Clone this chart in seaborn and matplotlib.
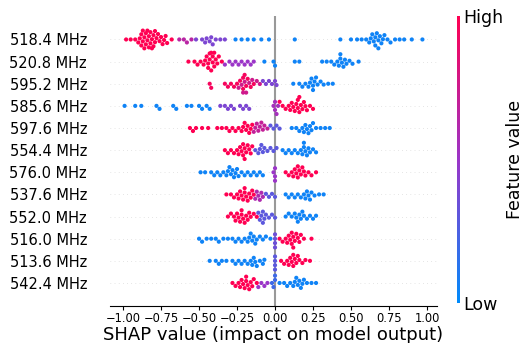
import numpy as np
import pandas as pd
import seaborn as sns
import matplotlib
import matplotlib.pyplot as plt
from matplotlib.colors import LinearSegmentedColormap, Normalize
from matplotlib.cm import ScalarMappable

# Features, top to bottom (ordered by mean |SHAP|)
features = ["518.4 MHz", "520.8 MHz", "595.2 MHz", "585.6 MHz", "597.6 MHz", "554.4 MHz",
            "576.0 MHz", "537.6 MHz", "552.0 MHz", "516.0 MHz", "513.6 MHz", "542.4 MHz"]

# Each row: (feature value 0=low..1=high, [SHAP values])
row_518_4 = [(1.0, [-0.98, -0.95, -0.92, -0.90, -0.89, -0.88, -0.88, -0.87, -0.87, -0.86, -0.86,
                    -0.85, -0.85, -0.84, -0.84, -0.83, -0.83, -0.82, -0.82, -0.81, -0.81, -0.80,
                    -0.80, -0.79, -0.79, -0.78, -0.77, -0.76, -0.75, -0.74, -0.73, -0.72, -0.71,
                    -0.68]),
             (0.65, [-0.63, -0.60, -0.58, -0.55]),
             (0.4, [-0.52, -0.48, -0.46, -0.45, -0.43, -0.42, -0.41, -0.39, -0.36, -0.33]),
             (0.05, [-0.26, -0.22, -0.18, -0.14, -0.09, -0.04, 0.13, 0.43, 0.50, 0.54, 0.57, 0.60,
                     0.62, 0.63, 0.64, 0.65, 0.66, 0.66, 0.67, 0.68, 0.68, 0.69, 0.70, 0.71, 0.72,
                     0.74, 0.76, 0.79, 0.82, 0.85, 0.90, 0.97])]
row_520_8 = [(1.0, [-0.57, -0.53, -0.51, -0.49, -0.47, -0.46, -0.45, -0.44, -0.44, -0.43, -0.43,
                    -0.42, -0.42, -0.41, -0.41, -0.40, -0.40, -0.39, -0.38, -0.37, -0.35]),
             (0.5, [-0.33, -0.30, -0.28, -0.26, -0.24, -0.22, -0.20, -0.18, -0.16, -0.14]),
             (0.05, [-0.07, -0.01, 0.0, 0.13, 0.16, 0.31, 0.34, 0.37, 0.39, 0.41, 0.42, 0.43, 0.43,
                     0.44, 0.45, 0.46, 0.47, 0.49, 0.51, 0.55])]
row_595_2 = [(0.95, [-0.43, -0.42, -0.33, -0.31, -0.29, -0.27, -0.25, -0.23, -0.21, -0.21, -0.20,
                     -0.19, -0.18, -0.16, -0.14]),
             (0.75, [-0.24, -0.22, -0.21, -0.20, -0.19, -0.17, -0.15, -0.12, -0.10]),
             (0.4, [-0.08, -0.06, -0.04, -0.02, 0.0, 0.01]),
             (0.05, [0.12, 0.16, 0.18, 0.20, 0.22, 0.23, 0.24, 0.25, 0.25, 0.26, 0.27, 0.28, 0.30,
                     0.32, 0.35, 0.38])]
row_585_6 = [(0.05, [-0.99, -0.92, -0.88, -0.78, -0.76, -0.67, -0.65, -0.58, -0.55, -0.50, -0.48,
                     -0.45, -0.43]),
             (0.4, [-0.36, -0.33, -0.31, -0.29, -0.27, -0.23, -0.21, -0.19, -0.17]),
             (0.55, [-0.01, 0.0, 0.0, 0.01, 0.02]),
             (1.0, [0.03, 0.05, 0.07, 0.09, 0.10, 0.11, 0.12, 0.13, 0.14, 0.15, 0.15, 0.16, 0.16,
                    0.17, 0.18, 0.19, 0.20, 0.21, 0.23, 0.25])]
row_597_6 = [(1.0, [-0.56, -0.54, -0.52, -0.48, -0.44, -0.38, -0.35, -0.32, -0.30, -0.28, -0.26,
                    -0.24, -0.22, -0.21, -0.20, -0.19, -0.18, -0.17, -0.16, -0.15]),
             (0.7, [-0.14, -0.13, -0.12, -0.11, -0.10, -0.09, -0.08, -0.07, -0.05]),
             (0.3, [-0.03, -0.01, 0.01, 0.03]),
             (0.05, [0.11, 0.14, 0.16, 0.18, 0.19, 0.20, 0.21, 0.22, 0.23, 0.24, 0.25, 0.27, 0.30,
                     0.33, 0.36])]
row_554_4 = [(1.0, [-0.33, -0.31, -0.29, -0.27, -0.25, -0.24, -0.23, -0.22, -0.21, -0.21, -0.20,
                    -0.20, -0.19, -0.18, -0.17, -0.16, -0.15]),
             (0.3, [-0.13, -0.11, -0.10, -0.09, -0.08, -0.07, -0.05, -0.03, -0.01, 0.01]),
             (0.05, [0.05, 0.07, 0.09, 0.11, 0.13, 0.15, 0.17, 0.18, 0.19, 0.19, 0.20, 0.21, 0.22,
                     0.23, 0.25, 0.27])]
row_576_0 = [(0.05, [-0.49, -0.46, -0.42, -0.40, -0.38, -0.36, -0.34, -0.32, -0.31, -0.30, -0.29,
                     -0.28, -0.27, -0.26, -0.25, -0.24, -0.22, -0.20, -0.18, -0.16, -0.14, -0.12,
                     -0.10, -0.08]),
             (0.5, [-0.01, 0.0, 0.0, 0.0]),
             (1.0, [0.07, 0.09, 0.11, 0.12, 0.13, 0.14, 0.15, 0.15, 0.16, 0.17, 0.18, 0.19, 0.20,
                    0.22, 0.24, 0.27])]
row_537_6 = [(1.0, [-0.32, -0.29, -0.27, -0.25, -0.24, -0.23, -0.22, -0.21, -0.20, -0.20, -0.19,
                    -0.18, -0.17, -0.16, -0.15, -0.14]),
             (0.6, [-0.13, -0.12, -0.11, -0.10, -0.09, -0.08]),
             (0.3, [-0.06, -0.04, -0.02, 0.0]),
             (0.05, [0.07, 0.09, 0.11, 0.13, 0.15, 0.17, 0.19, 0.20, 0.21, 0.22, 0.23, 0.24, 0.26,
                     0.29, 0.32])]
row_552_0 = [(1.0, [-0.31, -0.29, -0.27, -0.26, -0.25, -0.24, -0.23, -0.22, -0.22, -0.21, -0.20,
                    -0.19, -0.18, -0.17, -0.16, -0.14, -0.12]),
             (0.3, [-0.11, -0.10, -0.09, -0.08, -0.08, -0.07, -0.06, -0.04, -0.02, 0.0]),
             (0.05, [0.07, 0.09, 0.11, 0.13, 0.14, 0.15, 0.16, 0.17, 0.18, 0.19, 0.21, 0.23, 0.25,
                     0.27])]
row_516_0 = [(0.05, [-0.50, -0.48, -0.45, -0.42, -0.39, -0.37, -0.34, -0.31, -0.28, -0.26, -0.24,
                     -0.22, -0.20, -0.18, -0.17, -0.16, -0.15, -0.14, -0.13, -0.12, -0.10, -0.08,
                     -0.06, -0.03]),
             (0.35, [0.0, 0.0, 0.0, 0.0]),
             (1.0, [0.03, 0.05, 0.07, 0.08, 0.09, 0.10, 0.11, 0.11, 0.12, 0.12, 0.13, 0.14, 0.15,
                    0.16, 0.17, 0.19, 0.24])]
row_513_6 = [(0.05, [-0.43, -0.39, -0.37, -0.35, -0.32, -0.28, -0.26, -0.24, -0.22, -0.20, -0.18,
                     -0.16, -0.15, -0.14, -0.13, -0.12, -0.10, -0.08, -0.07]),
             (0.3, [0.0, 0.0, 0.0, 0.0]),
             (1.0, [0.04, 0.06, 0.08, 0.09, 0.10, 0.11, 0.12, 0.12, 0.13, 0.14, 0.15, 0.16, 0.18,
                    0.20, 0.23])]
row_542_4 = [(1.0, [-0.28, -0.26, -0.24, -0.23, -0.22, -0.21, -0.20, -0.19, -0.19, -0.18, -0.17,
                    -0.16, -0.15, -0.14, -0.12]),
             (0.5, [-0.11, -0.09, -0.07, -0.05]),
             (0.2, [-0.02, -0.01, 0.0, 0.0]),
             (0.05, [0.03, 0.06, 0.08, 0.10, 0.12, 0.13, 0.14, 0.15, 0.16, 0.17, 0.18, 0.19, 0.21,
                     0.24, 0.27])]

rows = [row_518_4, row_520_8, row_595_2, row_585_6, row_597_6, row_554_4,
        row_576_0, row_537_6, row_552_0, row_516_0, row_513_6, row_542_4]

# long table for seaborn
records = []
for name, row in zip(features, rows):
    for fval, vals in row:
        for v in vals:
            records.append({"feature": name, "shap": v, "fval": fval})
df = pd.DataFrame(records)

# shap-like red/blue colormap
cmap = LinearSegmentedColormap.from_list("shap_rb", ["#008bfb", "#9b35c8", "#ff0052"])

fig = plt.figure(figsize=(5.23, 3.43), dpi=100)
ax = fig.add_axes([110 / 523, 37 / 343, 327 / 523, 290 / 343])

for i in range(len(features)):
    ax.axhline(i, color="#cccccc", lw=0.5, dashes=(1, 5), zorder=-1)
ax.axvline(0, color="#999999", lw=1.5, zorder=-1)

sns.swarmplot(data=df, x="shap", y="feature", hue="fval", order=features,
              palette=cmap, hue_norm=(0, 1), size=3.0, linewidth=0,
              legend=False, orient="h", ax=ax, warn_thresh=1.0)

ax.set_xlim(-1.086, 1.066)
ax.set_ylim(12.04, -1.06)
ax.set_xticks([-1.0, -0.75, -0.5, -0.25, 0.0, 0.25, 0.5, 0.75, 1.0])
ax.set_xticklabels([f"{t:.2f}".replace("-", "\u2212") for t in ax.get_xticks()], fontsize=8.3)
ax.set_xlabel("")
ax.set_ylabel("")
ax.tick_params(axis="y", length=0, labelsize=10.5, pad=16.5)
ax.tick_params(axis="x", length=3, pad=1)
for s in ["top", "right", "left"]:
    ax.spines[s].set_visible(False)
fig.text(273 / 523, 1 - 335 / 343, "SHAP value (impact on model output)",
         fontsize=13, ha="center", va="center")

# colorbar
cax = fig.add_axes([457 / 523, 40 / 343, 3 / 523, 287 / 343])
sm = ScalarMappable(norm=Normalize(0, 1), cmap=cmap)
cb = fig.colorbar(sm, cax=cax, ticks=[0, 1])
cb.set_ticklabels(["Low", "High"])
cb.ax.tick_params(length=0, labelsize=12.5, pad=2)
cb.outline.set_visible(False)
cb.set_label("Feature value", fontsize=12.5, labelpad=2)

fig.savefig("out.png", dpi=100)
